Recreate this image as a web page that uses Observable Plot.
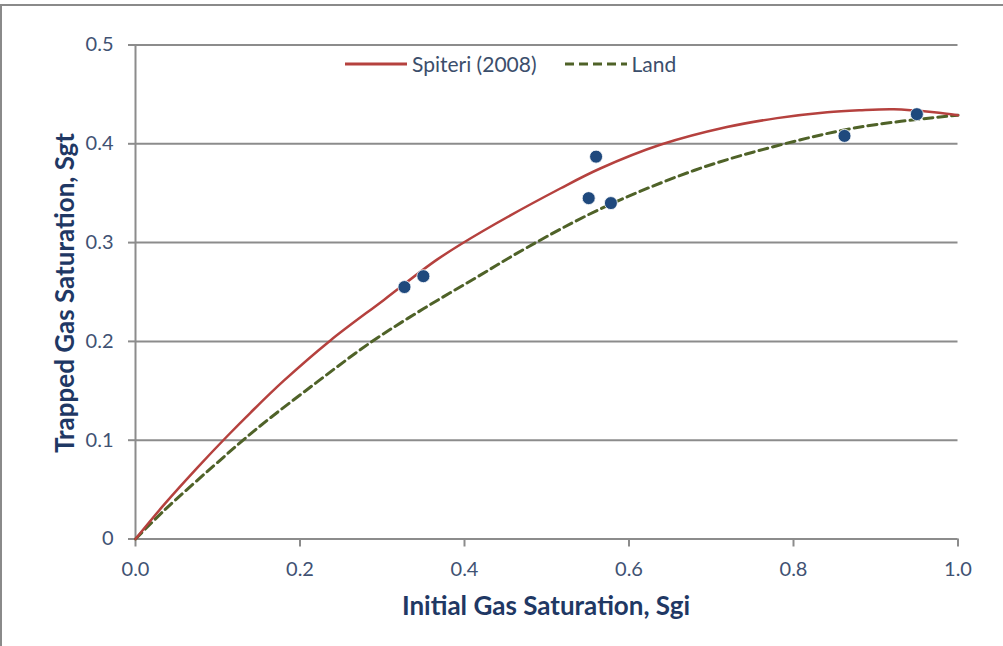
<!DOCTYPE html>
<html>
<head>
<meta charset="utf-8">
<script src="https://cdn.jsdelivr.net/npm/d3@7"></script>
<script src="https://cdn.jsdelivr.net/npm/@observablehq/plot@0.6"></script>
<style>
  html, body { margin: 0; padding: 0; background: #fff; }
  #wrap { position: relative; width: 1003px; height: 646px; overflow: hidden; font-family: Lato, "Open Sans", sans-serif; }
  #frameL { position: absolute; left: 0; top: 4px; width: 2px; height: 642px; background: #8a8a8a; }
  #frameT { position: absolute; left: 0; top: 4px; width: 1003px; height: 2px; background: #8a8a8a; }
  #legend { position: absolute; top: 52px; left: 345px; display: flex; align-items: center; font-size: 21px; color: #3b4e6b; line-height: 24px; }
  #legend .item { display: flex; align-items: center; }
  #legend svg { display: block; }
</style>
</head>
<body>
<div id="wrap">
  <div id="chart"></div>
  <div id="frameL"></div>
  <div id="frameT"></div>
  <div id="legend"></div>
</div>
<script>
// ---- Data ----
const spiteriX = [0, 0.035, 0.075, 0.112, 0.140, 0.180, 0.237, 0.302, 0.367, 0.423, 0.517, 0.565, 0.638, 0.719, 0.780, 0.841, 0.880, 0.922, 0.971, 1.0];
const spiteriY = [0, 0.035, 0.072, 0.1045, 0.128, 0.160, 0.201, 0.242, 0.283, 0.312, 0.355, 0.375, 0.399, 0.417, 0.426, 0.432, 0.434, 0.435, 0.432, 0.429];

const landX = [0, 0.035, 0.095, 0.148, 0.221, 0.286, 0.350, 0.415, 0.476, 0.565, 0.679, 0.780, 0.881, 1.0];
const landY = [0, 0.029, 0.074, 0.112, 0.159, 0.199, 0.233, 0.265, 0.295, 0.334, 0.373, 0.398, 0.417, 0.429];

const measuredX = [0.327, 0.350, 0.551, 0.560, 0.578, 0.862, 0.950];
const measuredY = [0.255, 0.266, 0.345, 0.387, 0.340, 0.408, 0.430];

const xTicks = [0, 0.2, 0.4, 0.6, 0.8, 1.0];
const yTicks = [0, 0.1, 0.2, 0.3, 0.4, 0.5];
const xTickLabels = ["0.0", "0.2", "0.4", "0.6", "0.8", "1.0"];
const yTickLabels = ["0", "0.1", "0.2", "0.3", "0.4", "0.5"];

const seriesNames = ["Spiteri (2008)", "Land"];
const xTitle = "Initial Gas Saturation, Sgi";
const yTitle = "Trapped Gas Saturation, Sgt";

// ---- Build tables ----
const spiteri = spiteriX.map((x, i) => ({x, y: spiteriY[i]}));
const land = landX.map((x, i) => ({x, y: landY[i]}));
const measured = measuredX.map((x, i) => ({x, y: measuredY[i]}));

const RED = "#b5413e", GREEN = "#4f6228", BLUE = "#1f497d", GRID = "#8c8c8c";
const TICK = "#3f5273", TITLE = "#1f3864";

const chart = Plot.plot({
  width: 1003,
  height: 646,
  marginLeft: 135,
  marginRight: 45.5,
  marginTop: 44.5,
  marginBottom: 107.5,
  style: {fontFamily: "Lato, 'Open Sans', sans-serif", background: "transparent"},
  x: {domain: [0, 1]},
  y: {domain: [0, 0.5]},
  marks: [
    Plot.ruleY(yTicks, {x1: 0, x2: 1, stroke: GRID, strokeWidth: 2}),
    Plot.ruleX([0], {stroke: GRID, strokeWidth: 2}),
    Plot.axisY({ticks: yTicks, tickFormat: (d, i) => yTickLabels[i], tickSize: 7, tickPadding: 15,
      stroke: GRID, strokeWidth: 2, strokeOpacity: 1, fill: TICK, fontSize: 20, label: null}),
    Plot.axisX({ticks: xTicks, tickFormat: (d, i) => xTickLabels[i], tickSize: 8, tickPadding: 15,
      stroke: GRID, strokeWidth: 2, strokeOpacity: 1, fill: TICK, fontSize: 20, label: null}),
    Plot.line(land, {x: "x", y: "y", curve: "catmull-rom", stroke: GREEN, strokeWidth: 3, strokeDasharray: "9,5"}),
    Plot.line(spiteri, {x: "x", y: "y", curve: "catmull-rom", stroke: RED, strokeWidth: 2.5}),
    Plot.dot(measured, {x: "x", y: "y", r: 6.5, fill: BLUE, stroke: "white", strokeWidth: 0.8})
  ]
});
document.getElementById("chart").appendChild(chart);

// Axis titles as SVG text in the same svg
const svg = d3.select(chart);
svg.append("text")
  .attr("x", 546).attr("y", 615)
  .attr("text-anchor", "middle")
  .attr("font-size", 26).attr("font-weight", "bold")
  .attr("fill", TITLE)
  .text(xTitle);
svg.append("text")
  .attr("transform", "translate(74,293) rotate(-90)")
  .attr("text-anchor", "middle")
  .attr("font-size", 26).attr("font-weight", "bold")
  .attr("fill", TITLE)
  .text(yTitle);

// Legend (HTML, above plot area)
const legend = d3.select("#legend");
const items = [
  {name: seriesNames[0], color: RED, dash: null, w: 3, gapAfter: 28},
  {name: seriesNames[1], color: GREEN, dash: "9,5", w: 3, gapAfter: 0}
];
items.forEach(it => {
  const d = legend.append("div").attr("class", "item").style("margin-right", it.gapAfter + "px");
  const s = d.append("svg").attr("width", 62).attr("height", 20);
  s.append("line").attr("x1", 0).attr("x2", 62).attr("y1", 10).attr("y2", 10)
    .attr("stroke", it.color).attr("stroke-width", it.w).attr("stroke-dasharray", it.dash);
  d.append("span").style("margin-left", "5px").text(it.name);
});
</script>
</body>
</html>
